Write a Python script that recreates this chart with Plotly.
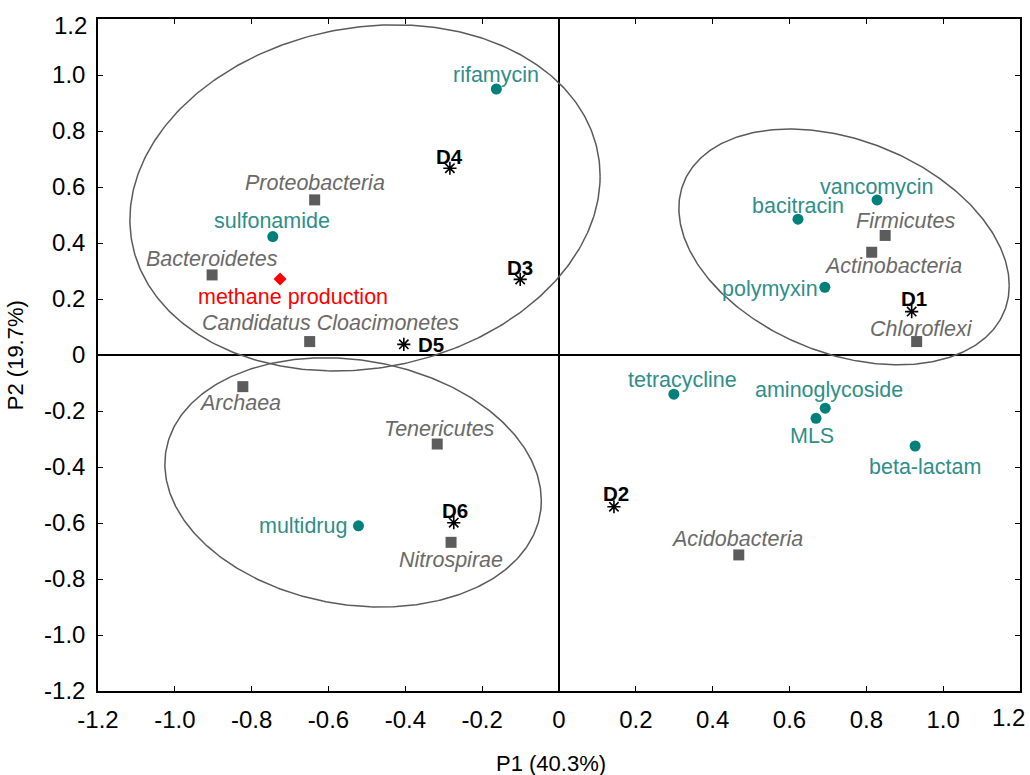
import numpy as np
import plotly.graph_objects as go

# ---------------- data ----------------
arg_names = ["rifamycin", "sulfonamide", "vancomycin", "bacitracin", "polymyxin",
             "tetracycline", "aminoglycoside", "MLS", "beta-lactam", "multidrug"]
arg_x = [-0.163, -0.745, 0.828, 0.622, 0.692, 0.299, 0.693, 0.669, 0.927, -0.522]
arg_y = [0.950, 0.423, 0.554, 0.485, 0.242, -0.140, -0.190, -0.226, -0.325, -0.610]

phy_names = ["Proteobacteria", "Bacteroidetes", "Candidatus Cloacimonetes", "Firmicutes",
             "Actinobacteria", "Chloroflexi", "Acidobacteria", "Archaea", "Tenericutes",
             "Nitrospirae"]
phy_x = [-0.636, -0.903, -0.649, 0.849, 0.814, 0.931, 0.468, -0.823, -0.317, -0.281]
phy_y = [0.554, 0.286, 0.048, 0.427, 0.367, 0.048, -0.714, -0.113, -0.318, -0.669]

smp_names = ["D1", "D2", "D3", "D4", "D5", "D6"]
smp_x = [0.918, 0.143, -0.101, -0.284, -0.404, -0.274]
smp_y = [0.155, -0.542, 0.270, 0.667, 0.038, -0.599]

env_names = ["methane production"]
env_x = [-0.726]
env_y = [0.271]

# confidence ellipses: centre x, centre y, half x-extent, half y-extent, correlation
ell_cx = [-0.505, 0.742, -0.536]
ell_cy = [0.561, 0.386, -0.455]
ell_sx = [0.612, 0.430, 0.490]
ell_sy = [0.618, 0.421, 0.445]
ell_rho = [0.126, -0.328, -0.147]

tick_vals = [-1.2, -1.0, -0.8, -0.6, -0.4, -0.2, 0, 0.2, 0.4, 0.6, 0.8, 1.0, 1.2]
tick_text = ["-1.2", "-1.0", "-0.8", "-0.6", "-0.4", "-0.2", "0", "0.2", "0.4", "0.6",
             "0.8", "1.0", "1.2"]

# ---------------- label placement (style) ----------------
# name: (xanchor, dx px, dy px downward)
label_pos = {
    "rifamycin": ("center", 0, -14), "sulfonamide": ("center", -1, -16),
    "vancomycin": ("center", 0, -13), "bacitracin": ("center", 0, -13),
    "polymyxin": ("right", -5, 2), "tetracycline": ("center", 9, -14),
    "aminoglycoside": ("center", 4, -18), "MLS": ("center", -4, 18),
    "beta-lactam": ("center", 10, 21), "multidrug": ("right", -9, 0),
    "Proteobacteria": ("center", 0, -17), "Bacteroidetes": ("center", 0, -16),
    "Candidatus Cloacimonetes": ("center", 21, -19), "Firmicutes": ("center", 20, -14),
    "Actinobacteria": ("center", 21, 14), "Chloroflexi": ("center", 5, -13),
    "Acidobacteria": ("center", -2, -16), "Archaea": ("center", -3, 16),
    "Tenericutes": ("center", 2, -15), "Nitrospirae": ("center", 0, 18),
    "D1": ("center", 2, -13), "D2": ("center", 2, -13), "D3": ("center", 0, -12),
    "D4": ("center", 0, -12), "D5": ("left", 12, 0), "D6": ("center", 1, -12),
    "methane production": ("center", 13, 18),
}

FONT = "Arial, Liberation Sans, sans-serif"
TEAL = "#00807b"
TEAL_TXT = "#2f8e8a"
GRAY = "#5c5c5c"
GRAY_TXT = "#6a6a6a"
RED = "#ff0000"
TICK_SIZE = 24

fig = go.Figure()

# ellipses
t = np.linspace(0, 2 * np.pi, 400)
for cx, cy, sx, sy, r in zip(ell_cx, ell_cy, ell_sx, ell_sy, ell_rho):
    M = np.array([[sx * sx, r * sx * sy], [r * sx * sy, sy * sy]])
    L = np.linalg.cholesky(M)
    pts = L @ np.vstack([np.cos(t), np.sin(t)])
    fig.add_trace(go.Scatter(x=cx + pts[0], y=cy + pts[1], mode="lines",
                             line=dict(color="#5a5a5a", width=1.5),
                             hoverinfo="skip", showlegend=False))

fig.add_trace(go.Scatter(x=arg_x, y=arg_y, mode="markers", text=arg_names,
                         marker=dict(symbol="circle", size=11, color=TEAL),
                         showlegend=False))
fig.add_trace(go.Scatter(x=phy_x, y=phy_y, mode="markers", text=phy_names,
                         marker=dict(symbol="square", size=11, color=GRAY),
                         showlegend=False))
fig.add_trace(go.Scatter(x=smp_x, y=smp_y, mode="markers", text=smp_names,
                         marker=dict(symbol="asterisk-open", size=11, color="black",
                                     line=dict(color="black", width=1.6)),
                         showlegend=False))
fig.add_trace(go.Scatter(x=env_x, y=env_y, mode="markers", text=env_names,
                         marker=dict(symbol="diamond", size=10, color=RED),
                         showlegend=False))


def add_labels(names, xs, ys, color, size, italic=False, bold=False):
    for n, x, y in zip(names, xs, ys):
        xa, dx, dy = label_pos[n]
        txt = n
        if bold:
            txt = "<b>" + n + "</b>"
        fig.add_annotation(x=x, y=y, xref="x", yref="y", text=txt, showarrow=False,
                           xanchor=xa, yanchor="middle", xshift=dx, yshift=-dy,
                           font=dict(family=FONT, size=size, color=color,
                                     style="italic" if italic else "normal"))


add_labels(arg_names, arg_x, arg_y, TEAL_TXT, 21.5)
add_labels(phy_names, phy_x, phy_y, GRAY_TXT, 21.5, italic=True)
add_labels(smp_names, smp_x, smp_y, "black", 20.5, bold=True)
add_labels(env_names, env_x, env_y, RED, 21.5)

# the last tick label of each axis sits at the frame edge; it is drawn as an
# annotation nudged inward (as in the reference) so it is not hidden
axis_ticktext = tick_text[:-1] + [""]

axis_common = dict(range=[-1.2, 1.2], tickvals=tick_vals, ticktext=axis_ticktext,
                   ticks="inside", ticklen=5, tickwidth=1.3, tickcolor="black",
                   showline=True, linecolor="black", linewidth=1.5, mirror="ticks",
                   showgrid=False, zeroline=True, zerolinecolor="black",
                   zerolinewidth=1.5,
                   tickfont=dict(family=FONT, size=TICK_SIZE, color="black"))

fig.update_layout(
    width=1030, height=775,
    margin=dict(l=98, r=8, t=19, b=84),
    paper_bgcolor="white", plot_bgcolor="white",
    xaxis=dict(**axis_common, ticklabelstandoff=6),
    yaxis=dict(**axis_common, ticklabelstandoff=6),
    showlegend=False,
)

# edge tick labels
fig.add_annotation(text=tick_text[-1], xref="x", yref="paper", x=tick_vals[-1], y=0,
                   xanchor="right", yanchor="middle", xshift=7, yshift=-26,
                   showarrow=False, font=dict(family=FONT, size=TICK_SIZE, color="black"))
fig.add_annotation(text=tick_text[-1], xref="paper", yref="y", x=0, y=tick_vals[-1],
                   xanchor="right", yanchor="middle", xshift=-9, yshift=-6,
                   showarrow=False, font=dict(family=FONT, size=TICK_SIZE, color="black"))

fig.add_annotation(text="P1 (40.3%)", xref="paper", yref="paper", x=0.491, y=-0.108,
                   xanchor="center", yanchor="middle", showarrow=False,
                   font=dict(family=FONT, size=22, color="black"))
fig.add_annotation(text="P2 (19.7%)", xref="paper", yref="paper", x=-0.0898, y=0.5,
                   xanchor="center", yanchor="middle", showarrow=False, textangle=-90,
                   font=dict(family=FONT, size=22, color="black"))

fig.write_html("out.html", config={"displayModeBar": False},
               post_script="document.body.style.margin='0';")
